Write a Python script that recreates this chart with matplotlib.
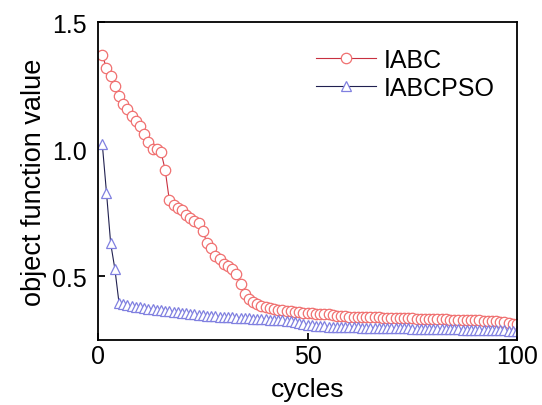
import matplotlib
matplotlib.use('Agg')
import matplotlib.pyplot as plt

plt.rcParams['font.family'] = ['Liberation Sans', 'DejaVu Sans']

# cycles 1..100
cycles = list(range(1, 101))

iabc = [1.37, 1.32, 1.29, 1.25, 1.21, 1.18, 1.16, 1.13, 1.11, 1.09,
        1.06, 1.03, 1.00, 1.00, 0.99, 0.92, 0.80, 0.78, 0.77, 0.76,
        0.74, 0.73, 0.72, 0.71, 0.68, 0.63, 0.61, 0.58, 0.57, 0.55,
        0.54, 0.53, 0.51, 0.47, 0.43, 0.41, 0.40, 0.39, 0.385, 0.38,
        0.375, 0.372, 0.37, 0.368, 0.366, 0.364, 0.362, 0.36, 0.358, 0.356,
        0.355, 0.354, 0.353, 0.352, 0.351, 0.35, 0.345, 0.344, 0.343, 0.342,
        0.342, 0.341, 0.341, 0.340, 0.340, 0.339, 0.339, 0.338, 0.338, 0.337,
        0.337, 0.336, 0.336, 0.335, 0.335, 0.334, 0.334, 0.333, 0.333, 0.332,
        0.332, 0.331, 0.331, 0.330, 0.330, 0.329, 0.329, 0.328, 0.328, 0.327,
        0.327, 0.326, 0.325, 0.324, 0.323, 0.322, 0.320, 0.318, 0.315, 0.312]

iabcpso = [1.02, 0.83, 0.63, 0.53, 0.395, 0.39, 0.387, 0.384, 0.381, 0.378,
           0.375, 0.373, 0.371, 0.369, 0.367, 0.365, 0.363, 0.361, 0.359, 0.357,
           0.355, 0.353, 0.351, 0.349, 0.347, 0.345, 0.344, 0.343, 0.342, 0.341,
           0.340, 0.339, 0.338, 0.337, 0.336, 0.335, 0.334, 0.333, 0.332, 0.331,
           0.330, 0.329, 0.328, 0.327, 0.326, 0.325, 0.322, 0.318, 0.314, 0.310,
           0.308, 0.306, 0.305, 0.304, 0.303, 0.302, 0.302, 0.301, 0.301, 0.300,
           0.300, 0.300, 0.299, 0.299, 0.299, 0.298, 0.298, 0.298, 0.297, 0.297,
           0.297, 0.296, 0.296, 0.296, 0.295, 0.295, 0.295, 0.294, 0.294, 0.294,
           0.293, 0.293, 0.293, 0.292, 0.292, 0.292, 0.291, 0.291, 0.291, 0.290,
           0.290, 0.290, 0.289, 0.289, 0.289, 0.288, 0.288, 0.287, 0.287, 0.286]

xticks = [0, 50, 100]
yticks = [0.5, 1.0, 1.5]

fig = plt.figure(figsize=(5.42, 4.06), dpi=100)
ax = fig.add_axes([0.181, 0.160, 0.773, 0.783])

ax.plot(cycles, iabc, color='#c83040', lw=0.8, marker='o', ms=7.5,
        mfc='white', mec='#f07070', mew=0.9, label='IABC')
ax.plot(cycles, iabcpso, color='#202050', lw=0.8, marker='^', ms=6.5,
        mfc='white', mec='#8080e0', mew=0.9, label='IABCPSO')

ax.set_xlim(0, 100)
ax.set_ylim(0.25, 1.5)
ax.set_xticks(xticks)
ax.set_yticks(yticks)
ax.set_yticklabels(['0.5', '1.0', '1.5'])
ax.tick_params(direction='in', length=5, width=1.3, labelsize=18)
ax.tick_params(axis='x', pad=3)
ax.tick_params(axis='y', pad=8)
for s in ax.spines.values():
    s.set_linewidth(1.3)

ax.set_xlabel('cycles', fontsize=19, labelpad=6)
ax.set_ylabel('object function value', fontsize=19.5, labelpad=4)

ax.legend(loc='upper right', frameon=False, fontsize=18, handlelength=2.4,
          labelspacing=0.15, handletextpad=0.3, bbox_to_anchor=(1.0, 0.99))

fig.savefig('out.png', dpi=100)
